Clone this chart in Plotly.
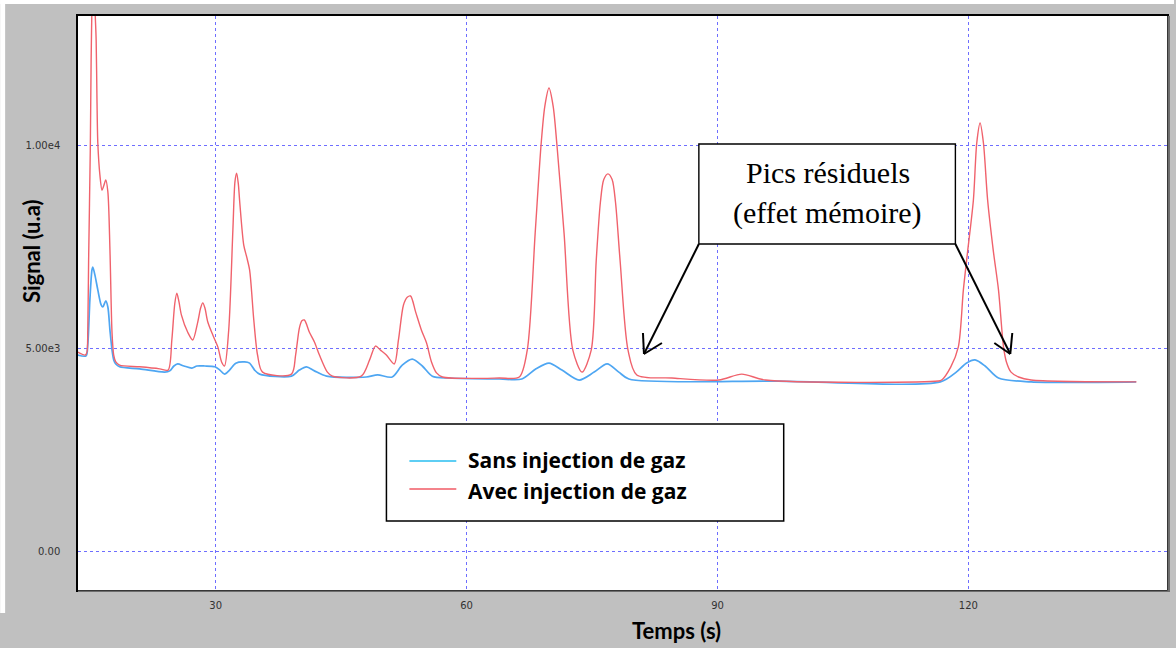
import plotly.graph_objects as go

# Signal vs time, without gas injection (blue trace)
t_sans = [13.5, 14.5, 14.7, 14.95, 15.2, 15.3, 15.55, 15.9, 16.3, 16.5, 16.85, 17.1, 17.35,
          17.6, 17.8, 18.05, 18.5, 20.9, 23.9, 24.5, 25.0, 25.45, 26.2, 27.15, 27.75, 28.7,
          29.9, 30.5, 31.05, 31.65, 32.4, 33.45, 34.05, 34.65, 35.25, 39.05, 40.0, 40.85,
          41.8, 43.25, 48.0, 49.35, 51.1, 52.3, 53.5, 54.7, 55.9, 57.9, 63.9, 66.6, 68.3,
          69.85, 71.4, 73.45, 75.25, 76.8, 78.2, 79.4, 97.3, 116.65, 118.55, 119.75, 120.8,
          122.0, 123.6, 127.5, 140.05]
sig_sans = [4840, 4820, 5090, 6190, 6930, 7000, 6810, 6440, 6070, 6020, 6170, 6020, 5450,
            4960, 4720, 4620, 4550, 4500, 4420, 4450, 4570, 4620, 4570, 4520, 4570, 4570,
            4550, 4470, 4370, 4470, 4640, 4670, 4640, 4470, 4370, 4320, 4470, 4550,
            4450, 4320, 4300, 4350, 4300, 4590, 4740, 4570, 4320, 4275, 4250, 4250, 4500,
            4640, 4470, 4225, 4420, 4620, 4420, 4250, 4200, 4180, 4420, 4640, 4720,
            4570, 4275, 4180, 4180]

# Signal vs time, with gas injection (red trace)
t_avec = [13.5, 14.4, 14.6, 14.7, 14.8, 15.0, 15.1, 15.2, 15.4, 15.55, 15.7, 15.8, 15.9,
          16.15, 16.4, 16.6, 16.85, 17.1, 17.35, 17.6, 17.8, 18.05, 18.5, 20.9, 23.3, 24.3,
          24.75, 25.1, 25.35, 25.6, 25.9, 26.65, 27.25, 27.85, 28.2, 28.45, 28.7, 29.05,
          29.65, 30.25, 30.7, 31.05, 31.55, 32.05, 32.3, 32.5, 32.7, 32.85, 33.35, 33.7,
          34.05, 34.55, 35.0, 35.6, 39.05, 39.55, 40.0, 40.3, 40.6, 41.2, 41.8, 42.4, 43.35,
          43.95, 47.4, 48.4, 49.1, 49.7, 50.4, 51.35, 51.85, 52.45, 52.9, 53.3, 53.9, 54.6,
          55.2, 55.8, 56.4, 57.1, 63.9, 66.3, 67.25, 68.2, 68.9, 69.35, 69.85, 70.35, 70.8,
          71.65, 72.7, 73.8, 74.9, 75.5, 76.0, 76.4, 76.9, 77.4, 77.8, 78.35, 79.3, 80.35,
          84.55, 90.15, 92.9, 95.75, 116.4, 116.8, 117.9, 118.8, 119.4, 119.9, 120.6, 121.0,
          121.4, 121.8, 122.3, 123.0, 123.6, 124.2, 124.55, 125.1, 126.0, 127.5, 140.1]
sig_avec = [4910, 4840, 4910, 5450, 7170, 9880, 12090, 13440, 15500, 13440, 12580, 11110, 10050,
            9260, 8890, 8990, 9140, 8850, 7420, 5380, 4840, 4670, 4590, 4550, 4500, 4470,
            5210, 6100, 6360, 6150, 5820, 5400, 5210, 5650, 6000, 6120, 6000, 5650,
            5330, 5040, 4670, 4570, 5450, 7910, 9100, 9310, 9050, 8650, 7540, 7250,
            6930, 5700, 4840, 4420, 4370, 4840, 5500, 5680, 5700, 5400, 5160, 4840, 4420,
            4320, 4320, 4720, 5060, 4960, 4840, 4620, 5210, 6070, 6260, 6290, 5900, 5450,
            5140, 4670, 4400, 4300, 4275, 4300, 4960, 7840, 10000, 10950, 11400, 10950, 10000,
            7840, 4960, 4420, 4960, 7170, 8600, 9150, 9290, 9150, 8600, 7170, 4960, 4350,
            4275, 4225, 4370, 4225, 4200, 4225, 4550, 5040, 6440, 7370, 8650, 10050,
            10540, 10050, 8650, 7370, 6440, 5040, 4670, 4420, 4300, 4225, 4180]

x_ticks = [30, 60, 90, 120]
y_ticks = [0, 5000, 10000]
y_tick_text = ["0.00", "5.00e3", "1.00e4"]

legend_labels = ["Sans injection de gaz", "Avec injection de gaz"]
note_lines = ["Pics résiduels", "(effet mémoire)"]

BLUE = "rgb(78,166,242)"
RED = "rgb(240,98,108)"
GRID = "rgb(110,110,255)"

W, H = 1176, 648
L, R, T, B = 78, 7, 16, 58
PW, PH = W - L - R, H - T - B


def px(x):
    return (x - L) / PW


def py(y):
    return (H - B - y) / PH


fig = go.Figure()
fig.add_trace(go.Scatter(x=t_sans, y=sig_sans, mode="lines", name=legend_labels[0],
                         line=dict(color=BLUE, width=1.7, shape="spline", smoothing=0.8)))
fig.add_trace(go.Scatter(x=t_avec, y=sig_avec, mode="lines", name=legend_labels[1],
                         line=dict(color=RED, width=1.4, shape="spline", smoothing=0.8)))

shapes = []
# white strips at the top and left edges of the window
shapes.append(dict(type="rect", xref="paper", yref="paper", x0=px(0), x1=px(W), y0=py(0), y1=py(4),
                   fillcolor="white", line=dict(width=0), layer="below"))
shapes.append(dict(type="rect", xref="paper", yref="paper", x0=px(0), x1=px(5), y0=py(0), y1=py(613),
                   fillcolor="white", line=dict(width=0), layer="below"))
# shadow on the right and bottom of the plot frame
shapes.append(dict(type="rect", xref="paper", yref="paper", x0=px(1169.5), x1=px(1172), y0=py(16), y1=py(592),
                   fillcolor="rgb(110,110,110)", line=dict(width=0)))
shapes.append(dict(type="rect", xref="paper", yref="paper", x0=px(78), x1=px(1172), y0=py(590.5), y1=py(592),
                   fillcolor="rgb(110,110,110)", line=dict(width=0)))

# legend box
shapes.append(dict(type="rect", xref="paper", yref="paper", x0=px(387), x1=px(785), y0=py(521), y1=py(424),
                   fillcolor="white", line=dict(color="black", width=1.5)))
shapes.append(dict(type="line", xref="paper", yref="paper", x0=px(410), x1=px(457), y0=py(461), y1=py(461),
                   line=dict(color="rgb(40,190,240)", width=1.3)))
shapes.append(dict(type="line", xref="paper", yref="paper", x0=px(410), x1=px(457), y0=py(489), y1=py(489),
                   line=dict(color="rgb(240,90,100)", width=1.3)))

# note box
shapes.append(dict(type="rect", xref="paper", yref="paper", x0=px(700), x1=px(957), y0=py(244), y1=py(144),
                   fillcolor="white", line=dict(color="black", width=1.4)))


def arrow(x0, y0, x1, y1, w1, w2):
    shapes.append(dict(type="line", xref="paper", yref="paper", x0=px(x0), y0=py(y0), x1=px(x1), y1=py(y1),
                       line=dict(color="black", width=2)))
    for wx, wy in (w1, w2):
        shapes.append(dict(type="line", xref="paper", yref="paper", x0=px(x1), y0=py(y1), x1=px(wx), y1=py(wy),
                           line=dict(color="black", width=2)))


arrow(700, 244, 645, 354, (644, 333), (663, 343))
arrow(957, 244, 1012, 354, (1014, 333), (996, 343))

annotations = []
annotations.append(dict(text="<b>Signal (u.a)</b>", xref="paper", yref="paper", x=px(32), y=py(251),
                        textangle=-90, showarrow=False, xanchor="center", yanchor="middle",
                        font=dict(family="Lato", size=22, color="black")))
annotations.append(dict(text="<b>Temps (s)</b>", xref="paper", yref="paper", x=px(678), y=py(630),
                        showarrow=False, xanchor="center", yanchor="middle",
                        font=dict(family="Lato", size=22, color="black")))
for lab, yy in zip(legend_labels, [460, 491]):
    annotations.append(dict(text="<b>" + lab + "</b>", xref="paper", yref="paper", x=px(467), y=py(yy),
                            showarrow=False, xanchor="left", yanchor="middle",
                            font=dict(family="Open Sans", size=21, color="black")))
for lab, yy in zip(note_lines, [172, 213]):
    annotations.append(dict(text=lab, xref="paper", yref="paper", x=px(829), y=py(yy),
                            showarrow=False, xanchor="center", yanchor="middle",
                            font=dict(family="Liberation Serif", size=30, color="black")))

fig.update_layout(
    width=W, height=H,
    margin=dict(l=L, r=R, t=T, b=B),
    paper_bgcolor="rgb(192,192,192)",
    plot_bgcolor="white",
    showlegend=False,
    shapes=shapes,
    annotations=annotations,
    xaxis=dict(range=[13.53, 143.75], tickvals=x_ticks, showgrid=True, gridcolor=GRID,
               griddash="dot", gridwidth=1, zeroline=False, showline=True, mirror=True,
               linecolor="black", linewidth=1.5, ticks="", ticklabelstandoff=5,
               tickfont=dict(family="DejaVu Sans", size=10, color="rgb(50,50,50)")),
    yaxis=dict(range=[-934, 13170], tickvals=y_ticks, ticktext=y_tick_text, showgrid=True,
               gridcolor=GRID, griddash="dot", gridwidth=1, zeroline=False, showline=True,
               mirror=True, linecolor="black", linewidth=1.5, ticks="", ticklabelstandoff=14,
               tickfont=dict(family="DejaVu Sans", size=10, color="rgb(50,50,50)")),
)

fig.write_html("out.html")
